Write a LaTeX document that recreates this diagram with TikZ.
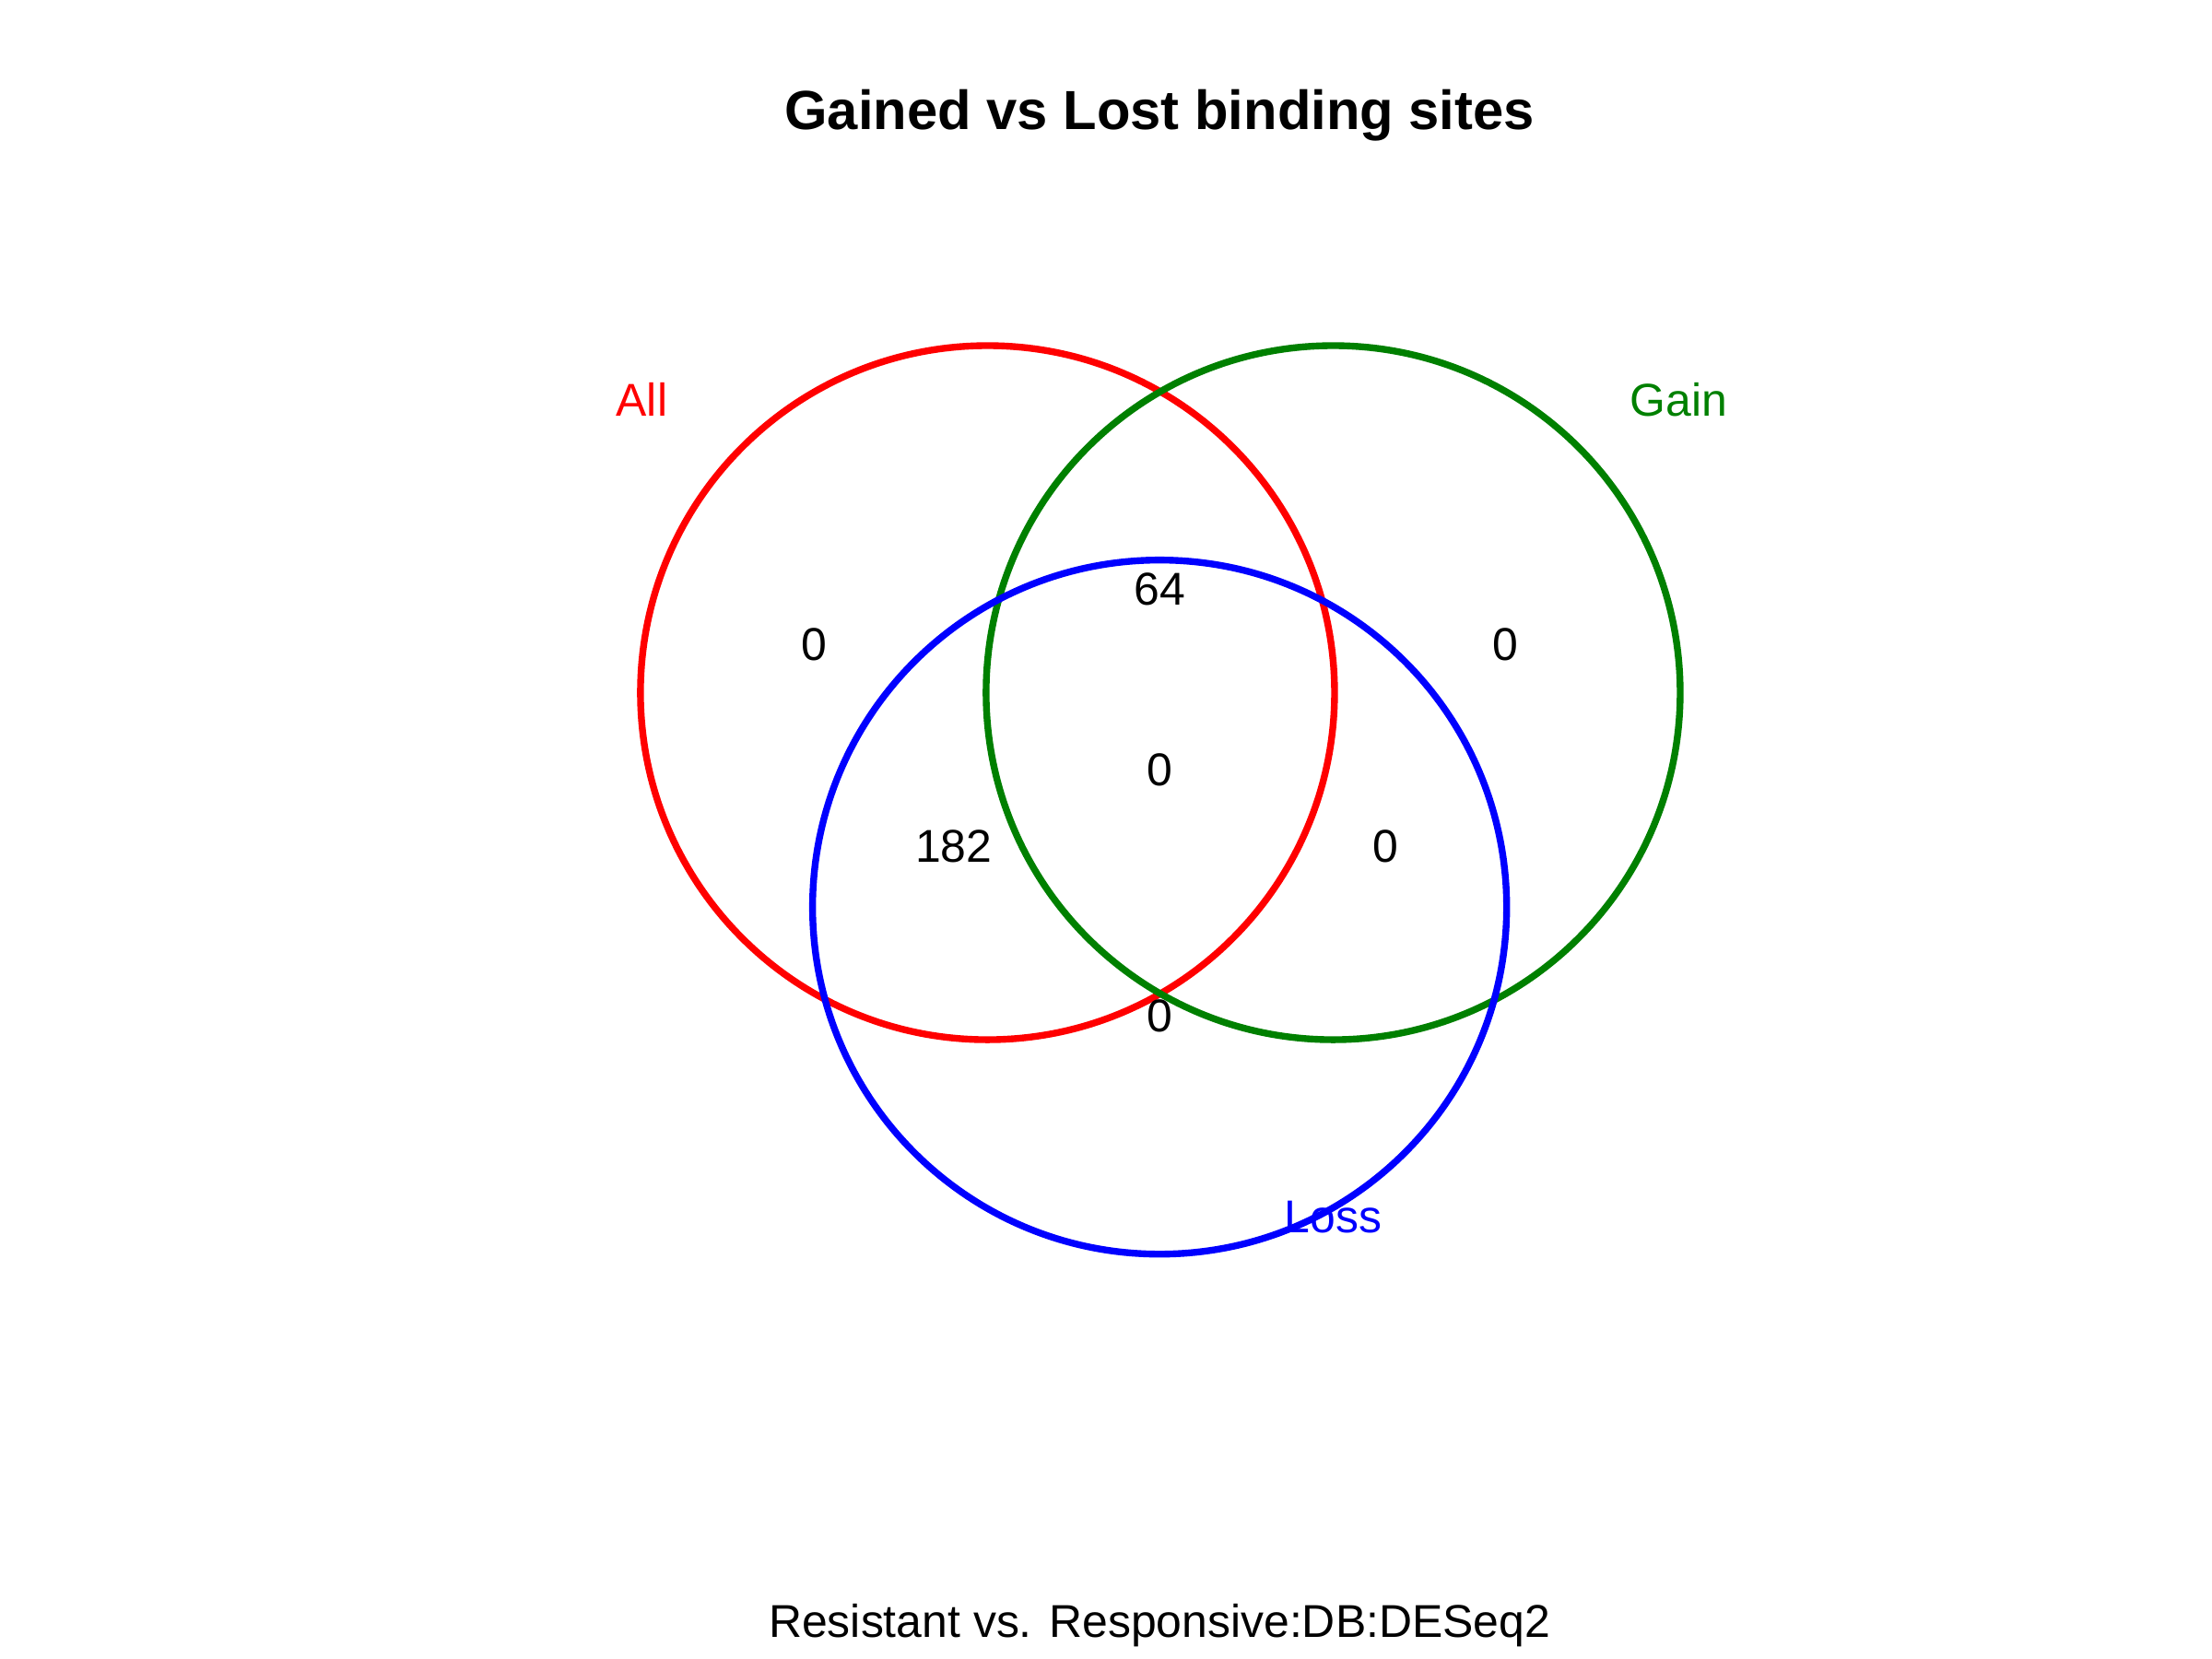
\documentclass[tikz,border=0pt]{standalone}
\usepackage{fontspec}
\setmainfont{Liberation Sans}
\begin{document}
\begin{tikzpicture}[x=0.015306cm,y=-0.015306cm]
      \tikzset{set circle/.style={line width=2.1pt,draw=#1},
        count label/.style={font=\fontsize{14.2}{17}\selectfont},
        set label/.style={font=\fontsize{14.2}{17}\selectfont,text=#1}
      }
      \useasboundingbox (0,0) rectangle (1568,1176);
      \node [font=\bfseries\fontsize{17}{20}\selectfont] (title) at (822,82) {Gained vs Lost binding sites};

      \draw [set circle=red] (700,491) circle (246);
      \definecolor{vgreen}{RGB}{0,128,0}
      \draw [set circle=vgreen] (945,491) circle (246);
      \draw [set circle=blue] (822,643) circle (246);

      \node [set label=red] (All) at (455,283) {All};
      \node [set label=vgreen] (Gain) at (1190,283) {Gain};
      \node [set label=blue] (Loss) at (945,863) {Loss};

      \node [count label] (nA) at (577,457) {0};
      \node [count label] (nAG) at (822,418) {64};
      \node [count label] (nG) at (1067,457) {0};
      \node [count label] (nAL) at (676,600) {182};
      \node [count label] (nAGL) at (822,546) {0};
      \node [count label] (nGL) at (982,600) {0};
      \node [count label] (nL) at (822,720) {0};

      \node [count label] (sub) at (822,1152) {Resistant vs. Responsive:DB:DESeq2};
    \end{tikzpicture}
\end{document}
